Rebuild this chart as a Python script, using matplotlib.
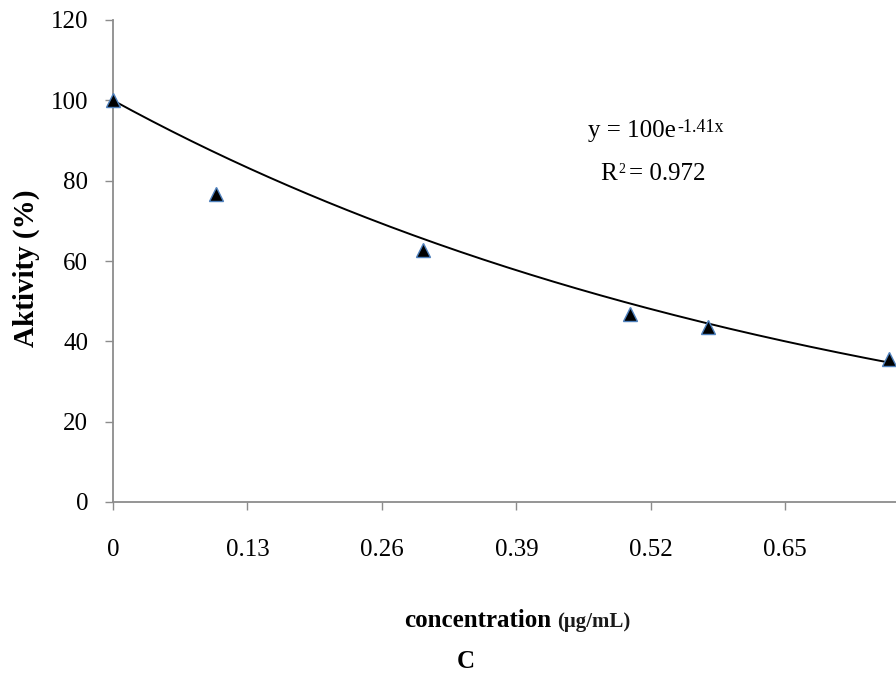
import numpy as np
import matplotlib
matplotlib.use("Agg")
import matplotlib.pyplot as plt

plt.rcParams['font.family'] = ['Liberation Serif', 'DejaVu Serif']

# data
conc = [0, 0.1, 0.3, 0.5, 0.575, 0.75]
activity = [100, 76.7, 62.7, 46.8, 43.6, 35.6]
fit_a = 100
fit_b = -1.41
xticks = [0, 0.13, 0.26, 0.39, 0.52, 0.65]
xticklabels = ['0', '0.13', '0.26', '0.39', '0.52', '0.65']
yticks = [0, 20, 40, 60, 80, 100, 120]

W, H = 896, 677
fig = plt.figure(figsize=(W / 100, H / 100), dpi=100)
ax = fig.add_axes([113 / W, 1 - 502 / H, (896 - 113) / W, (502 - 20) / H])

xs = np.linspace(0, max(conc), 200)
ax.plot(xs, fit_a * np.exp(fit_b * xs), color='black', lw=1.4, zorder=2)
ax.plot(conc, activity, linestyle='none', marker='^', markersize=10,
        markerfacecolor='black', markeredgecolor='#4f81bd', markeredgewidth=1.0,
        zorder=3, clip_on=False)

ax.set_xlim(0, 0.757)
ax.set_ylim(0, 120)
ax.set_xticks(xticks)
ax.set_xticklabels(xticklabels)
ax.set_yticks(yticks)

for s in ['top', 'right']:
    ax.spines[s].set_visible(False)
for s in ['left', 'bottom']:
    ax.spines[s].set_color('#8c8c8c')
    ax.spines[s].set_linewidth(1.3)
ax.tick_params(axis='both', direction='out', length=6, width=1, color='#8c8c8c',
               labelsize=18)
ax.tick_params(axis='x', pad=21)
ax.tick_params(axis='y', pad=12)

# trendline label, pieces chained so they never overlap
t1 = fig.text(588 / W, 1 - 137 / H, 'y = 100e', ha='left', va='baseline', fontsize=18)
fig.text(0, 0, '')
ax.annotate('-1.41x', xy=(1, 1), xycoords=t1, xytext=(1, 1), textcoords='offset points',
            ha='left', va='top', fontsize=13, annotation_clip=False)
t3 = fig.text(600 / W, 1 - 180 / H, 'R', ha='left', va='baseline', fontsize=18)
t4 = ax.annotate('2', xy=(1, 1), xycoords=t3, xytext=(1, 0), textcoords='offset points',
                 ha='left', va='top', fontsize=10, annotation_clip=False)
ax.annotate('= 0.972', xy=(1, 0), xycoords=t3, xytext=(9, 0), textcoords='offset points',
            ha='left', va='bottom', fontsize=18, annotation_clip=False)

fig.text(26 / W, 1 - 268 / H, 'Aktivity (%)', rotation=90, ha='center', va='center',
         fontsize=21, fontweight='bold')

fig.text(551 / W, 1 - 627 / H, 'concentration', ha='right', va='baseline',
         fontsize=18, fontweight='bold')
fig.text(557 / W, 1 - 627 / H, '(\u03bcg/mL)', ha='left', va='baseline',
         fontsize=15, fontweight='bold', color='#1a1a1a')
fig.text(466 / W, 1 - 662 / H, 'C', ha='center', va='center',
         fontsize=18, fontweight='bold')

fig.savefig('out.png', dpi=100)
